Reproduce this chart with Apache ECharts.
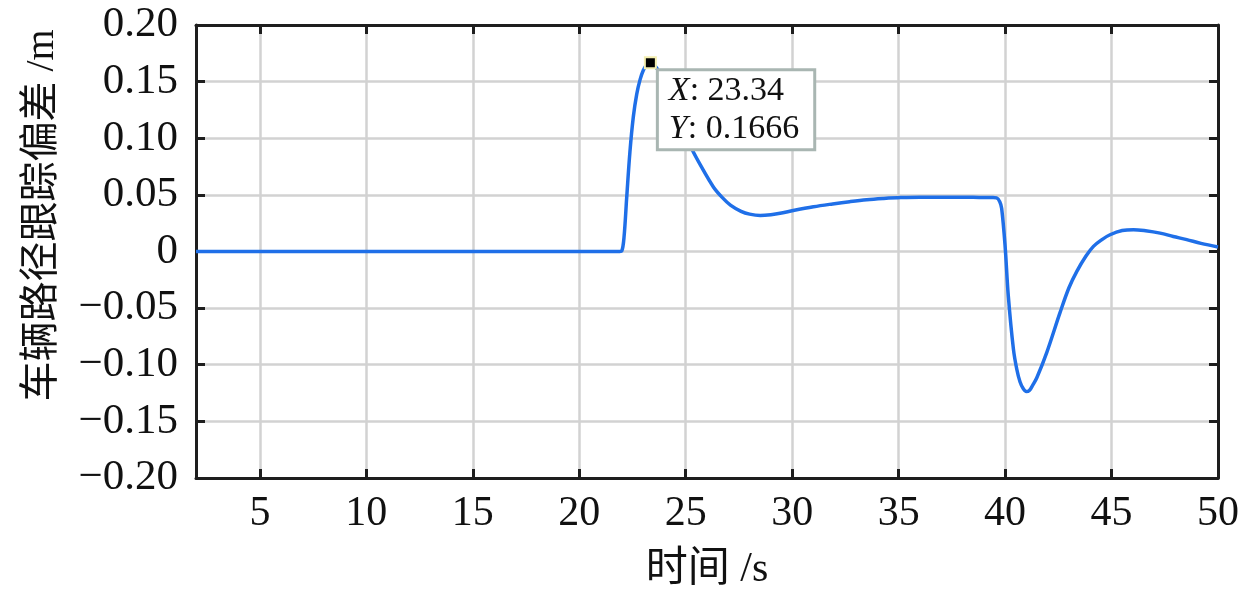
<!DOCTYPE html>
<html>
<head>
<meta charset="utf-8">
<script src="https://cdn.jsdelivr.net/npm/echarts@6/dist/echarts.min.js"></script>
<style>
html,body{margin:0;padding:0;background:#fff;}
#chart{width:1260px;height:596px;}
</style>
</head>
<body>
<div id="chart"></div>
<script>
// ---- data ----
const timeS = [2, 21.9, 22.0, 22.1, 22.23, 22.38, 22.54, 22.7, 22.86, 23.01, 23.15, 23.34, 23.55, 23.8, 24.1, 24.5, 25.0, 25.3, 25.7, 26.3, 26.7, 27.1, 27.6, 28.0, 28.5, 29.0, 29.5, 30.05, 31.0, 31.9, 32.7, 33.5, 34.3, 35.1, 36.0, 37.4, 38.5, 39.4, 39.6, 39.75, 39.84, 40.0, 40.15, 40.39, 40.55, 40.7, 40.85, 41.0, 41.15, 41.3, 41.49, 41.96, 42.58, 43.0, 43.37, 43.8, 44.15, 44.55, 44.93, 45.5, 46.03, 46.6, 47.28, 47.9, 48.53, 49.2, 50];
const deviationM = [0, 0, 0.0005, 0.012, 0.048, 0.088, 0.119, 0.139, 0.152, 0.160, 0.1645, 0.1666, 0.164, 0.157, 0.145, 0.126, 0.103, 0.09, 0.076, 0.057, 0.048, 0.041, 0.0355, 0.033, 0.0318, 0.0325, 0.034, 0.0362, 0.0395, 0.042, 0.044, 0.0457, 0.0468, 0.0476, 0.048, 0.048, 0.0478, 0.0476, 0.0473, 0.044, 0.038, 0.005, -0.039, -0.086, -0.104, -0.115, -0.121, -0.1237, -0.1225, -0.118, -0.1115, -0.089, -0.054, -0.032, -0.0175, -0.004, 0.0045, 0.0105, 0.0148, 0.0185, 0.0193, 0.0183, 0.0162, 0.0133, 0.0105, 0.0072, 0.004];
const xTicks = [5, 10, 15, 20, 25, 30, 35, 40, 45, 50];
const yTicks = [-0.20, -0.15, -0.10, -0.05, 0, 0.05, 0.10, 0.15, 0.20];
const yTickLabels = ['\u22120.20', '\u22120.15', '\u22120.10', '\u22120.05', '0', '0.05', '0.10', '0.15', '0.20'];
const peakX = 23.34;
const peakY = 0.1666;
const xTitle = '时间 /s';
const yTitle = '车辆路径跟踪偏差 /m';

// ---- chart ----
const serif = "'Liberation Serif', 'Noto Sans CJK SC', serif";
const frame = '#1e1e1e';
const gridCol = '#d2d2d2';
const seriesData = timeS.map((t, i) => [t, deviationM[i]]);

function yLabel(v) {
  for (let i = 0; i < yTicks.length; i++) {
    if (Math.abs(yTicks[i] - v) < 1e-9) return yTickLabels[i];
  }
  return '';
}

const axisLineStyle = { show: true, onZero: false, lineStyle: { color: frame, width: 3 } };
const tickStyle = { color: frame, width: 3 };

const chart = echarts.init(document.getElementById('chart'), null, { renderer: 'canvas' });
chart.setOption({
  animation: false,
  backgroundColor: '#fff',
  grid: { left: 196, right: 42, top: 25, bottom: 116, show: false },
  xAxis: [{
    type: 'value', min: 2, max: 50, position: 'bottom',
    axisLine: axisLineStyle,
    axisTick: { show: true, inside: true, length: 9, customValues: xTicks, lineStyle: tickStyle },
    axisLabel: { customValues: xTicks, margin: 15, color: '#111', fontSize: 42, fontFamily: serif },
    splitLine: { show: true, lineStyle: { color: gridCol, width: 2.5 } },
    name: xTitle, nameLocation: 'middle', nameGap: 71,
    nameTextStyle: { fontSize: 42, fontFamily: serif, color: '#111' }
  }, {
    type: 'value', min: 2, max: 50, position: 'top',
    axisLine: axisLineStyle,
    axisTick: { show: true, inside: true, length: 9, customValues: xTicks, lineStyle: tickStyle },
    axisLabel: { show: false, customValues: xTicks },
    splitLine: { show: false }
  }],
  yAxis: [{
    type: 'value', min: -0.2, max: 0.2, position: 'left',
    axisLine: axisLineStyle,
    axisTick: { show: true, inside: true, length: 9, customValues: yTicks, lineStyle: tickStyle },
    axisLabel: { customValues: yTicks, margin: 18, color: '#111', fontSize: 43, fontFamily: serif, formatter: yLabel },
    splitLine: { show: true, lineStyle: { color: gridCol, width: 2.5 } },
    name: yTitle, nameLocation: 'middle', nameRotate: 90, nameGap: 134,
    nameTextStyle: { fontSize: 40, fontFamily: serif, color: '#111', padding: [0, 0, 0, 72] }
  }, {
    type: 'value', min: -0.2, max: 0.2, position: 'right',
    axisLine: axisLineStyle,
    axisTick: { show: true, inside: true, length: 9, customValues: yTicks, lineStyle: tickStyle },
    axisLabel: { show: false, customValues: yTicks },
    splitLine: { show: false }
  }],
  series: [{
    type: 'line',
    data: seriesData,
    showSymbol: false,
    smooth: 0.35,
    lineStyle: { color: '#1f6fe8', width: 3.5 },
    markPoint: {
      symbol: 'rect',
      symbolSize: 11,
      itemStyle: { color: '#000', borderColor: '#f3eeb0', borderWidth: 2 },
      data: [{ coord: [peakX, peakY] }],
      label: {
        show: true,
        position: [15, 15],
        formatter: '{i|X}: ' + peakX.toFixed(2) + '\n{i|Y}: ' + peakY.toFixed(4),
        color: '#111',
        fontSize: 34,
        fontFamily: serif,
        lineHeight: 38,
        backgroundColor: '#fff',
        borderColor: '#a9b6b2',
        borderWidth: 3,
        padding: [1, 14, 0, 10],
        rich: {
          i: { fontStyle: 'italic', fontSize: 34, fontFamily: serif, color: '#111', lineHeight: 38 }
        }
      }
    }
  }]
});
</script>
</body>
</html>
